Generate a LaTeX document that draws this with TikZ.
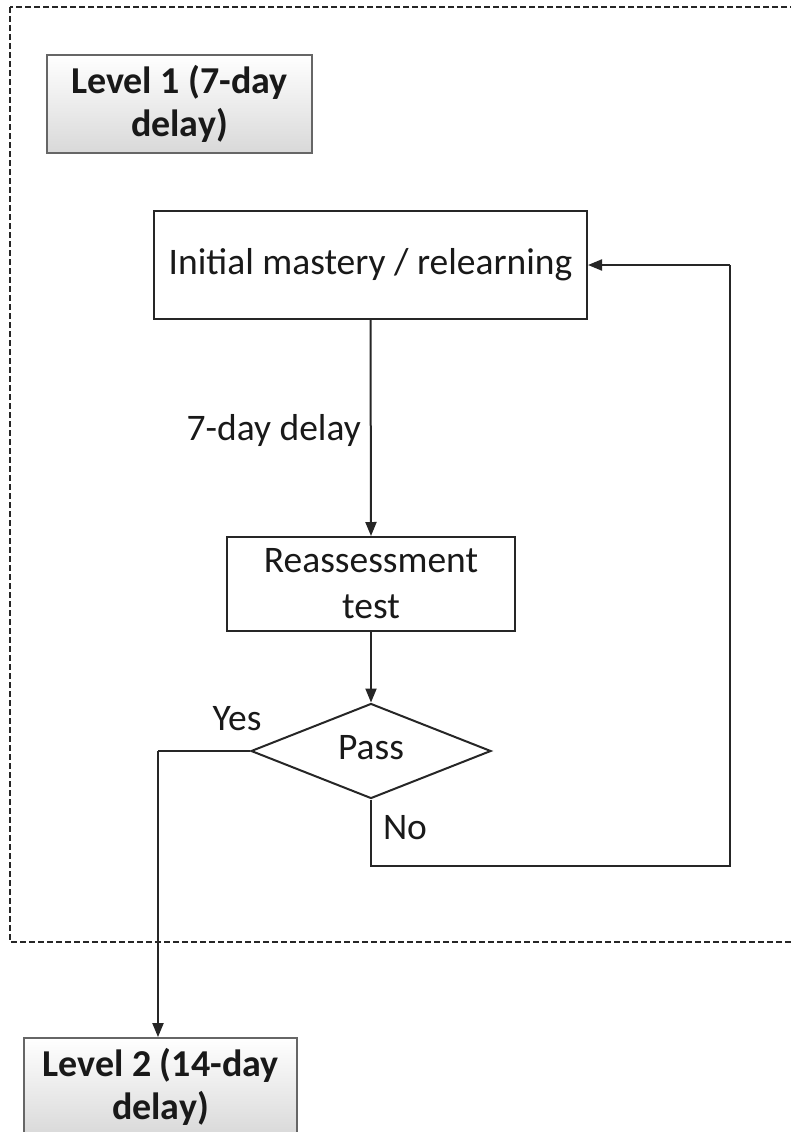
\documentclass[tikz,border=0pt]{standalone}
\usepackage{fontspec}
\setmainfont{Carlito}
\usetikzlibrary{shapes.geometric,arrows.meta}
\begin{document}
\begin{tikzpicture}[x=1pt,y=-1pt,
  every node/.style={font=\fontsize{37.5}{46}\selectfont, text=black!90},
  levelbox/.style={draw=black!60, line width=1.8pt, top color=white, bottom color=black!15,
    align=center, inner sep=0pt, font=\fontsize{38}{43}\selectfont\bfseries},
  procbox/.style={draw=black!85, line width=2pt, fill=white, align=center, inner sep=0pt,
    font=\fontsize{37.5}{46}\selectfont},
  decide/.style={diamond, draw=black!85, line width=2pt, aspect=2.53, inner sep=0pt,
    minimum width=240pt, minimum height=95pt},
  conn/.style={draw=black!85, line width=2pt},
  arr/.style={conn, -{Triangle[length=14pt,width=11pt]}},
  lbl/.style={inner sep=0pt}
]
\useasboundingbox (0,0) rectangle (790,1132);
\draw[line width=1.4pt, dash pattern=on 6pt off 3pt, black!85] (10,7) rectangle (800,942);

\node[levelbox, minimum width=265pt, minimum height=98pt] (lv1) at (179.5,104) {Level 1 (7-day\\delay)};
\node[procbox, minimum width=433pt, minimum height=108pt] (init) at (370.5,265) {Initial mastery / relearning};
\node[procbox, minimum width=288pt, minimum height=94pt] (reass) at (371,584) {Reassessment\\test};
\node[decide] (pass) at (371,751) {};
\node (passlbl) at (371,748) {Pass};
\node[levelbox, minimum width=273pt, minimum height=98pt] (lv2) at (160.5,1087) {Level 2 (14-day\\delay)};

\coordinate (nodown) at (371,866);
\coordinate (nocorner) at (730,866);
\coordinate (noup) at (730,265);
\coordinate (yesleft) at (158,751);

\draw[arr] (init.south) -- (reass.north);
\draw[arr] (reass.south) -- (pass.north);
\draw[conn] (pass.south) -- (nodown) -- (nocorner) -- (noup);
\draw[arr] (noup) -- (init.east);
\draw[conn] (pass.west) -- (yesleft);
\draw[arr] (yesleft) -- (lv2.north -| yesleft);

\node[lbl, anchor=east] (delaylbl) at (361,430) {7-day delay};
\node[lbl] (yeslbl) at (237,719) {Yes};
\node[lbl] (nolbl) at (405,828) {No};
\end{tikzpicture}
\end{document}
